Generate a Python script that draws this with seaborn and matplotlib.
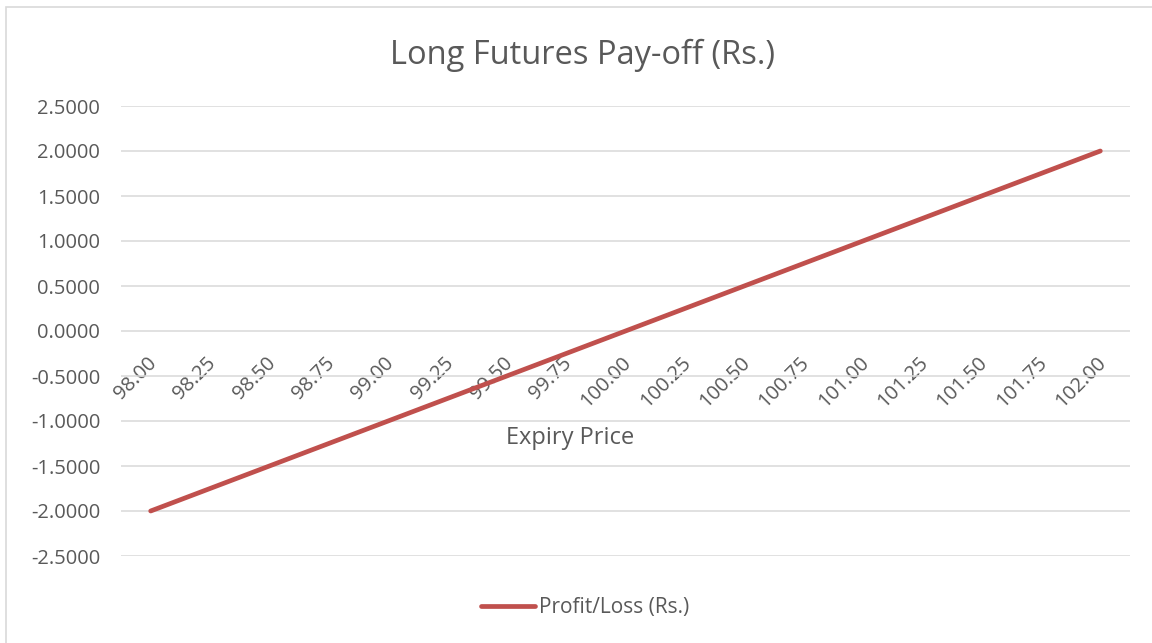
import matplotlib
matplotlib.use("Agg")
import matplotlib.pyplot as plt
import matplotlib.transforms as mtransforms
import seaborn as sns
import pandas as pd
from matplotlib.lines import Line2D

expiry_prices = ["98.00", "98.25", "98.50", "98.75", "99.00", "99.25", "99.50", "99.75",
                 "100.00", "100.25", "100.50", "100.75", "101.00", "101.25", "101.50",
                 "101.75", "102.00"]
profit_loss = [-2.00, -1.75, -1.50, -1.25, -1.00, -0.75, -0.50, -0.25,
               0.00, 0.25, 0.50, 0.75, 1.00, 1.25, 1.50, 1.75, 2.00]
y_ticks = [-2.5, -2.0, -1.5, -1.0, -0.5, 0.0, 0.5, 1.0, 1.5, 2.0, 2.5]

sns.set_style("white")
plt.rcParams['font.family'] = ['Open Sans', 'DejaVu Sans']

W, H = 1152, 643
fig = plt.figure(figsize=(W / 100, H / 100), dpi=100)
ax = fig.add_axes([121 / W, 1 - 556 / H, (1130 - 121) / W, (556 - 106) / H])

df = pd.DataFrame({"idx": range(len(expiry_prices)), "Profit/Loss (Rs.)": profit_loss})
line_color = "#C0504D"
sns.lineplot(data=df, x="idx", y="Profit/Loss (Rs.)", ax=ax, color=line_color,
             linewidth=3.4, solid_capstyle="round", legend=False)

text_color = "#595959"
ax.set_xlim(-0.5, len(expiry_prices) - 0.5)
ax.set_ylim(-2.5, 2.5)
ax.set_yticks(y_ticks)
ax.set_yticklabels([f"{v:.4f}" for v in y_ticks], color=text_color, fontsize=14.5)
ax.grid(axis="y", color="#D9D9D9", linewidth=1.1)
ax.set_axisbelow(True)
for s in ["top", "right", "left"]:
    ax.spines[s].set_visible(False)
ax.spines["bottom"].set_position(("data", 0))
ax.spines["bottom"].set_visible(False)
ax.set_xticks(range(len(expiry_prices)))
ax.set_xticklabels(expiry_prices, rotation=45, ha="right", rotation_mode="anchor",
                   color=text_color, fontsize=14.5)
ax.tick_params(axis="x", length=0, pad=16)
ax.tick_params(axis="y", length=0, pad=15)
shift = mtransforms.ScaledTranslation(-4 / 100, 0, fig.dpi_scale_trans)
for lbl in ax.get_xticklabels():
    lbl.set_transform(lbl.get_transform() + shift)
ax.set_xlabel("")
ax.set_ylabel("")

fig.text(583 / W, 1 - 55 / H, "Long Futures Pay-off (Rs.)", ha="center", va="center",
         fontsize=23.5, color=text_color)
fig.text(570 / W, 1 - 438 / H, "Expiry Price", ha="center", va="center",
         fontsize=17, color=text_color)

handle = Line2D([0], [0], color=line_color, linewidth=3.4, solid_capstyle="round")
fig.legend([handle], ["Profit/Loss (Rs.)"], loc="center", bbox_to_anchor=(585 / W, 1 - 608 / H),
           frameon=False, fontsize=15, labelcolor=text_color, handlelength=2.6,
           handletextpad=0.15)

border = plt.Rectangle((6 / W, -0.1), 1.2, 1 - 7 / H + 0.1, transform=fig.transFigure,
                       fill=False, edgecolor="#D9D9D9", linewidth=1.2)
fig.patches.append(border)

fig.savefig("out.png", dpi=100)
